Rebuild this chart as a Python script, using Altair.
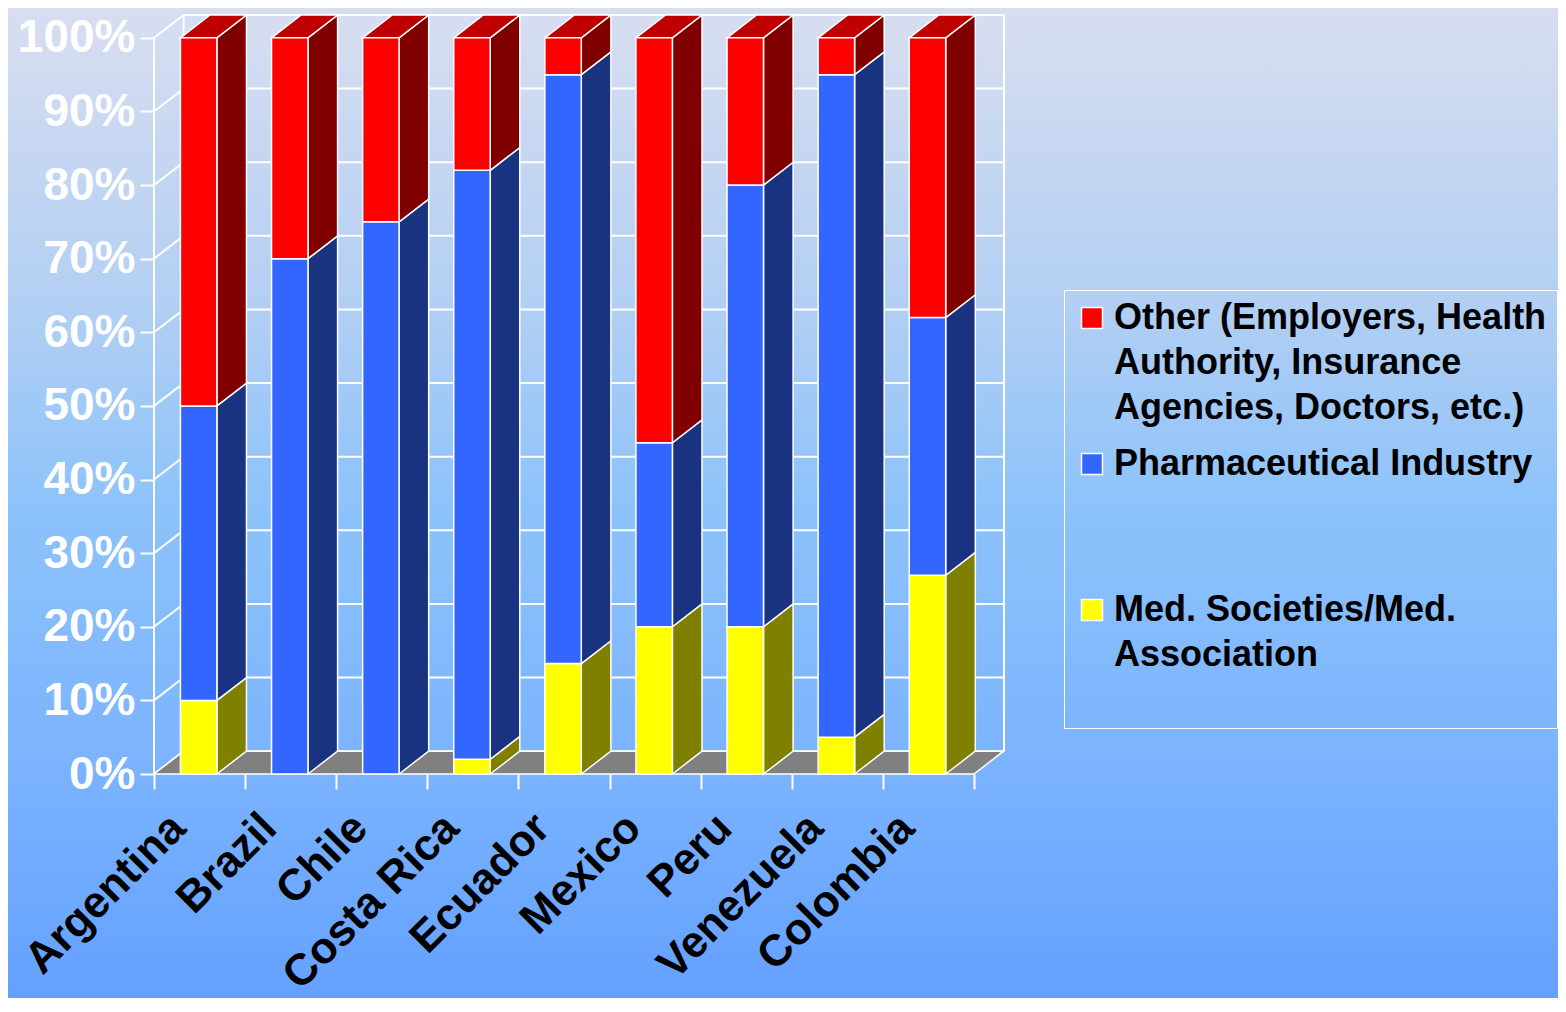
import json
import altair as alt
import pandas as pd

# ---------------- data ----------------
countries = ["Argentina", "Brazil", "Chile", "Costa Rica", "Ecuador",
             "Mexico", "Peru", "Venezuela", "Colombia"]
med_societies = [10, 0, 0, 2, 15, 20, 20, 5, 27]
pharma_industry = [40, 70, 75, 80, 80, 25, 60, 90, 35]
other_sources = [50, 30, 25, 18, 5, 55, 20, 5, 38]

series_names = [
    "Other (Employers, Health Authority, Insurance Agencies, Doctors, etc.)",
    "Pharmaceutical Industry",
    "Med. Societies/Med. Association",
]
legend_lines = [
    ["Other (Employers, Health", "Authority, Insurance", "Agencies, Doctors, etc.)"],
    ["Pharmaceutical Industry", "", ""],
    ["Med. Societies/Med.", "Association", ""],
]
y_ticks = [0, 10, 20, 30, 40, 50, 60, 70, 80, 90, 100]

# ---------------- style ----------------
front_colors = ["#FF0000", "#3366FF", "#FFFF00"]
side_colors = ["#800000", "#1A3380", "#808000"]
top_colors = ["#BF0000", "#2648BF", "#BFBF00"]
DX = 0.325        # depth offset (category units)
DY = 3.1          # depth offset (percent units)
BAR_L, BAR_R = 0.29, 0.69
X_MAX = 9.33
Y_MAX = 103.1
FLOOR_R = 9.0
FONT = "Liberation Sans"
PLOT_W, PLOT_H = 850, 759
PAD = {"left": 146, "top": 7, "right": 554, "bottom": 224}

# ---------------- tables ----------------
stack_order = [(2, med_societies), (1, pharma_industry), (0, other_sources)]
segs = []
for i, c in enumerate(countries):
    base = 0
    for s_idx, vals in stack_order:
        v = vals[i]
        if v > 0:
            segs.append(dict(country=c, i=i, s=s_idx, series=series_names[s_idx],
                             y0=base, y1=base + v))
        base += v

front_df = pd.DataFrame([
    dict(series=d["series"], x=d["i"] + BAR_L, x2=d["i"] + BAR_R, y=d["y0"], y2=d["y1"])
    for d in segs
])

side_rows = []
for k, d in enumerate(segs):
    xr = d["i"] + BAR_R
    side_rows.append(dict(face=k, x=xr, y=d["y0"], y2=d["y1"], fill=side_colors[d["s"]]))
    side_rows.append(dict(face=k, x=xr + DX, y=d["y0"] + DY, y2=d["y1"] + DY,
                          fill=side_colors[d["s"]]))
side_df = pd.DataFrame(side_rows)

top_rows = []
for k, d in enumerate(segs):
    if d["y1"] >= 100:
        xl, xr = d["i"] + BAR_L, d["i"] + BAR_R
        top_rows.append(dict(face=k, y=d["y1"], x=xl, x2=xr, fill=top_colors[d["s"]]))
        top_rows.append(dict(face=k, y=d["y1"] + DY, x=xl + DX, x2=xr + DX,
                             fill=top_colors[d["s"]]))
top_df = pd.DataFrame(top_rows)

wall_rows = []
for v in y_ticks:
    wall_rows.append(dict(x=DX, x2=X_MAX, y=v + DY, y2=v + DY))
    wall_rows.append(dict(x=0, x2=DX, y=v, y2=v + DY))
wall_rows += [
    dict(x=0, x2=0, y=0, y2=100),
    dict(x=DX, x2=DX, y=DY, y2=100 + DY),
    dict(x=X_MAX, x2=X_MAX, y=DY, y2=100 + DY),
]
wall_df = pd.DataFrame(wall_rows)

floor_df = pd.DataFrame([
    dict(y=0, x=0, x2=FLOOR_R),
    dict(y=DY, x=DX, x2=FLOOR_R + DX),
])

# ---------------- scales / axes ----------------
xs = alt.Scale(domain=[0, X_MAX], nice=False, zero=False)
ys = alt.Scale(domain=[0, Y_MAX], nice=False, zero=False)

x_label_expr = ("datum.value < %d ? %s[round(datum.value)] : ''"
                % (len(countries), json.dumps(countries)))
x_axis = alt.Axis(
    values=list(range(len(countries) + 1)), labelExpr=x_label_expr, title=None,
    domain=False, grid=False, ticks=True, tickSize=15, tickColor="white", tickWidth=2,
    labelAngle=-45, labelAlign="right", labelBaseline="middle",
    labelFont=FONT, labelFontWeight="bold", labelFontSize=44, labelColor="black",
    labelPadding=32, labelOffset=24, labelOverlap=False, labelFlush=False, labelBound=False,
    labelLimit=600, zindex=2,
)
y_axis = alt.Axis(
    values=y_ticks, labelExpr="datum.value + '%'", title=None,
    domain=False, grid=False, tickSize=14, tickColor="white", tickWidth=2,
    labelFont=FONT, labelFontWeight="bold", labelFontSize=46, labelColor="white",
    labelPadding=5, labelOverlap=False, labelFlush=False, labelLimit=400, zindex=2,
)

def X(f="x"):
    return alt.X(f + ":Q", scale=xs, axis=x_axis)

def Y(f="y"):
    return alt.Y(f + ":Q", scale=ys, axis=y_axis)

legend_expr = ""
for name, lines in zip(series_names[:-1], legend_lines[:-1]):
    legend_expr += "datum.label == %s ? %s : " % (json.dumps(name), json.dumps(lines))
legend_expr += json.dumps(legend_lines[-1])

# ---------------- layers ----------------
bg = alt.Chart(pd.DataFrame({"k": [0]})).mark_rect(
    fill=alt.LinearGradient(
        gradient="linear", x1=0, x2=0, y1=0, y2=1,
        stops=[
            alt.GradientStop(offset=0, color="#D8DEF0"),
            alt.GradientStop(offset=0.3, color="#B2CFF3"),
            alt.GradientStop(offset=0.5, color="#8DC3FA"),
            alt.GradientStop(offset=0.75, color="#7CB4FE"),
            alt.GradientStop(offset=1, color="#64A1FF"),
        ],
    )
).encode(x=alt.value(-PAD["left"]), x2=alt.value(PLOT_W + PAD["right"]),
         y=alt.value(-PAD["top"]), y2=alt.value(PLOT_H + PAD["bottom"]))

walls = alt.Chart(wall_df).mark_rule(color="white", strokeWidth=2).encode(
    x=X(), x2="x2:Q", y=Y(), y2="y2:Q"
)

floor = alt.Chart(floor_df).mark_area(
    orient="horizontal", fill="#808080", stroke="white", strokeWidth=1.5
).encode(y=Y(), x=X(), x2="x2:Q")

sides = alt.Chart(side_df).mark_area(stroke="white", strokeWidth=1.5).encode(
    x=X(), y=Y(), y2="y2:Q", fill=alt.Fill("fill:N", scale=None), detail="face:N"
)

tops = alt.Chart(top_df).mark_area(orient="horizontal", stroke="white", strokeWidth=1.5).encode(
    y=Y(), x=X(), x2="x2:Q", fill=alt.Fill("fill:N", scale=None), detail="face:N"
)

fronts = alt.Chart(front_df).mark_rect(stroke="white", strokeWidth=1.5).encode(
    x=X(), x2="x2:Q", y=Y(), y2="y2:Q",
    color=alt.Color(
        "series:N",
        scale=alt.Scale(domain=series_names, range=front_colors),
        legend=alt.Legend(
            title=None, orient="none", legendX=910, legendY=275, direction="vertical",
            symbolType="square", symbolSize=441, symbolStrokeColor="white",
            symbolStrokeWidth=1.5, symbolOpacity=1,
            labelFont=FONT, labelFontWeight="bold", labelFontSize=36, labelColor="black",
            labelLimit=800, labelOffset=4, padding=10, rowPadding=20,
            strokeColor="white", labelExpr=legend_expr,
        ),
    ),
)

chart = alt.layer(bg, walls, floor, sides, tops, fronts).properties(
    width=PLOT_W, height=PLOT_H, padding=PAD,
    autosize=alt.AutoSizeParams(type="none"),
).configure_view(stroke=None).configure_legend(strokeWidth=2).configure(
    style={"guide-label": {"lineHeight": 45}}
)

chart.save("out.html", embed_options={"renderer": "svg", "actions": False})
